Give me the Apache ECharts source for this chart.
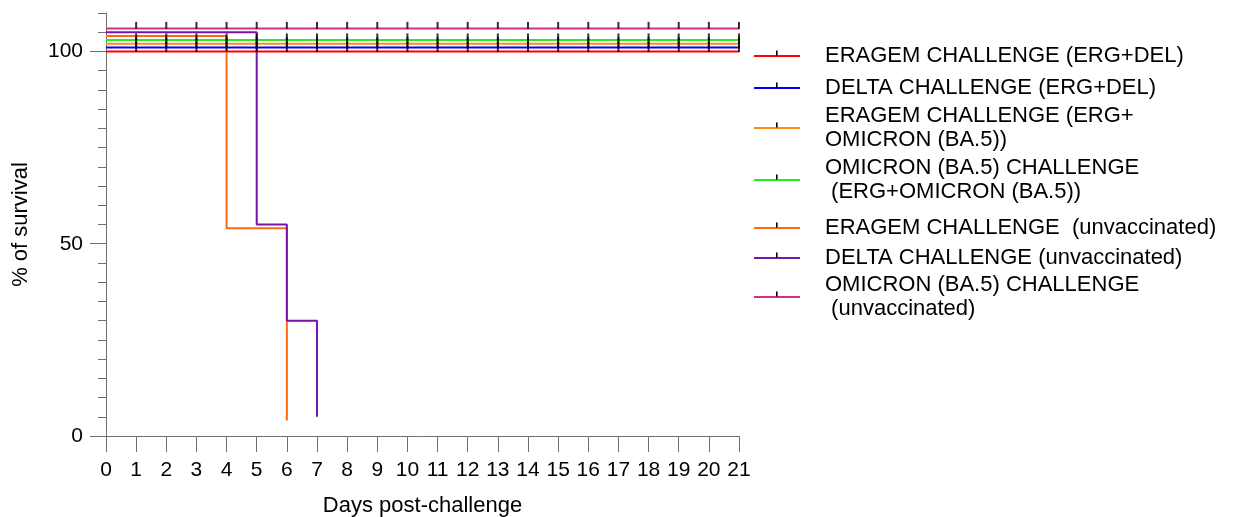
<!DOCTYPE html>
<html>
<head>
<meta charset="utf-8">
<script src="https://cdn.jsdelivr.net/npm/echarts@6/dist/echarts.min.js"></script>
<style>
  html, body { margin: 0; padding: 0; background: #fff; }
  #chart { width: 1245px; height: 517px; }
</style>
</head>
<body>
<div id="chart"></div>
<script>
// Kaplan-Meier survival after challenge (days 0-21)
const seriesNames = [
  'ERAGEM CHALLENGE (ERG+DEL)',
  'DELTA CHALLENGE (ERG+DEL)',
  'ERAGEM CHALLENGE (ERG+OMICRON (BA.5))',
  'OMICRON (BA.5) CHALLENGE (ERG+OMICRON (BA.5))',
  'ERAGEM CHALLENGE (unvaccinated)',
  'DELTA CHALLENGE (unvaccinated)',
  'OMICRON (BA.5) CHALLENGE (unvaccinated)'
];
const legendLabels = [
  'ERAGEM CHALLENGE (ERG+DEL)',
  'DELTA CHALLENGE (ERG+DEL)',
  'ERAGEM CHALLENGE (ERG+\nOMICRON (BA.5))',
  'OMICRON (BA.5) CHALLENGE\n (ERG+OMICRON (BA.5))',
  'ERAGEM CHALLENGE  (unvaccinated)',
  'DELTA CHALLENGE (unvaccinated)',
  'OMICRON (BA.5) CHALLENGE\n (unvaccinated)'
];

// event times (days) and % survival for each group
const eragemErgDelDays = [0, 21];
const eragemErgDelSurv = [100, 100];
const deltaErgDelDays = [0, 21];
const deltaErgDelSurv = [100, 100];
const eragemErgOmiDays = [0, 21];
const eragemErgOmiSurv = [100, 100];
const omicronErgOmiDays = [0, 21];
const omicronErgOmiSurv = [100, 100];
const eragemUnvDays = [0, 4, 6];
const eragemUnvSurv = [100, 50, 0];
const deltaUnvDays = [0, 5, 6, 7];
const deltaUnvSurv = [100, 50, 25, 0];
const omicronUnvDays = [0, 21];
const omicronUnvSurv = [100, 100];

// censored observations (days) on the curves that stay at 100 %
const censorDays = [1, 2, 3, 4, 5, 6, 7, 8, 9, 10, 11, 12, 13, 14, 15, 16, 17, 18, 19, 20, 21];
const censoredGroups = [0, 1, 2, 3, 6];

const xTicks = [0, 1, 2, 3, 4, 5, 6, 7, 8, 9, 10, 11, 12, 13, 14, 15, 16, 17, 18, 19, 20, 21];
const yLabelTicks = [0, 50, 100];

// ---- styling ----
const colors = ['#ff0000', '#0000ff', '#ff8c1a', '#22ee22', '#ff6a10', '#7a14a8', '#d4307e'];
// vertical stagger so overlapping curves stay visible
const stagger = [0, 1, 2, 3, 4, 5, 6];
const FONT = '"Liberation Sans", Arial, sans-serif';

const groupDays = [eragemErgDelDays, deltaErgDelDays, eragemErgOmiDays, omicronErgOmiDays, eragemUnvDays, deltaUnvDays, omicronUnvDays];
const groupSurv = [eragemErgDelSurv, deltaErgDelSurv, eragemErgOmiSurv, omicronErgOmiSurv, eragemUnvSurv, deltaUnvSurv, omicronUnvSurv];

function curvePoints(i) {
  return groupDays[i].map((d, k) => [d, groupSurv[i][k] + stagger[i]]);
}

function legendIcon(color) {
  const svg = '<svg xmlns="http://www.w3.org/2000/svg" width="46" height="12">' +
    '<rect x="0" y="5" width="46" height="2" fill="' + color + '"/>' +
    '<rect x="22" y="0.5" width="1.6" height="5" fill="#000"/></svg>';
  return 'image://data:image/svg+xml;charset=utf-8,' + encodeURIComponent(svg);
}

const lineSeries = seriesNames.map((name, i) => ({
  name: name,
  type: 'line',
  step: 'end',
  data: curvePoints(i),
  showSymbol: false,
  symbol: 'none',
  lineStyle: { color: colors[i], width: 2 },
  itemStyle: { color: colors[i] },
  z: 2 + i,
  silent: true
}));

const censorSeries = censoredGroups.map(i => ({
  name: seriesNames[i] + ' censored',
  type: 'scatter',
  data: censorDays.map(d => [d, groupSurv[i][groupSurv[i].length - 1] + stagger[i]]),
  symbol: 'rect',
  symbolSize: [2, 7],
  symbolOffset: [0, -3],
  itemStyle: { color: '#000' },
  z: 20,
  silent: true
}));

// legend rows: vertical centre of each row
const legendCentres = [56, 88, 128, 180, 228, 258, 297];
const legendLineH = 24;
const legends = seriesNames.map((name, i) => {
  const lines = legendLabels[i].split('\n').length;
  return {
    orient: 'vertical',
    left: 754,
    top: legendCentres[i] - lines * legendLineH / 2,
    padding: 0,
    itemWidth: 46,
    itemHeight: 12,
    selectedMode: false,
    data: [{ name: name, icon: legendIcon(colors[i]) }],
    formatter: () => legendLabels[i],
    textStyle: {
      fontFamily: FONT, fontSize: 22, color: '#000',
      lineHeight: legendLineH, padding: [0, 0, 0, 20]
    }
  };
});

const axisGrey = '#707070';

const option = {
  animation: false,
  backgroundColor: '#fff',
  grid: { left: 106, right: 506, top: 13, bottom: 81, outerBoundsMode: 'none', containLabel: false },
  legend: legends,
  xAxis: {
    type: 'value', min: 0, max: 21, interval: 1,
    name: 'Days post-challenge', nameLocation: 'middle', nameGap: 59,
    nameMoveOverlap: false,
    nameTextStyle: { fontFamily: FONT, fontSize: 22, color: '#000' },
    axisLine: { show: true, onZero: false, lineStyle: { color: axisGrey, width: 1 } },
    axisTick: { show: true, length: 16, inside: false, lineStyle: { color: axisGrey, width: 1 } },
    axisLabel: { margin: 24, fontFamily: FONT, fontSize: 21, color: '#000', customValues: xTicks },
    splitLine: { show: false }
  },
  yAxis: [
    {
      type: 'value', position: 'left', min: 0, max: 110, interval: 50,
      name: '% of survival', nameLocation: 'middle', nameGap: 74, nameRotate: 90,
      nameMoveOverlap: false,
      nameTextStyle: { fontFamily: FONT, fontSize: 22, color: '#000' },
      axisLine: { show: true, onZero: false, lineStyle: { color: axisGrey, width: 1 } },
      axisTick: { show: true, length: 16, customValues: yLabelTicks, lineStyle: { color: axisGrey, width: 1 } },
      axisLabel: { margin: 23, fontFamily: FONT, fontSize: 21, color: '#000', customValues: yLabelTicks },
      splitLine: { show: false }
    },
    {
      type: 'value', position: 'left', offset: 0, min: 0, max: 110, interval: 5,
      axisLine: { show: false, onZero: false },
      axisTick: { show: true, length: 8, lineStyle: { color: axisGrey, width: 1 } },
      axisLabel: { show: false },
      splitLine: { show: false }
    }
  ],
  series: lineSeries.concat(censorSeries)
};

const chart = echarts.init(document.getElementById('chart'), null, { renderer: 'canvas' });
chart.setOption(option);
</script>
</body>
</html>
